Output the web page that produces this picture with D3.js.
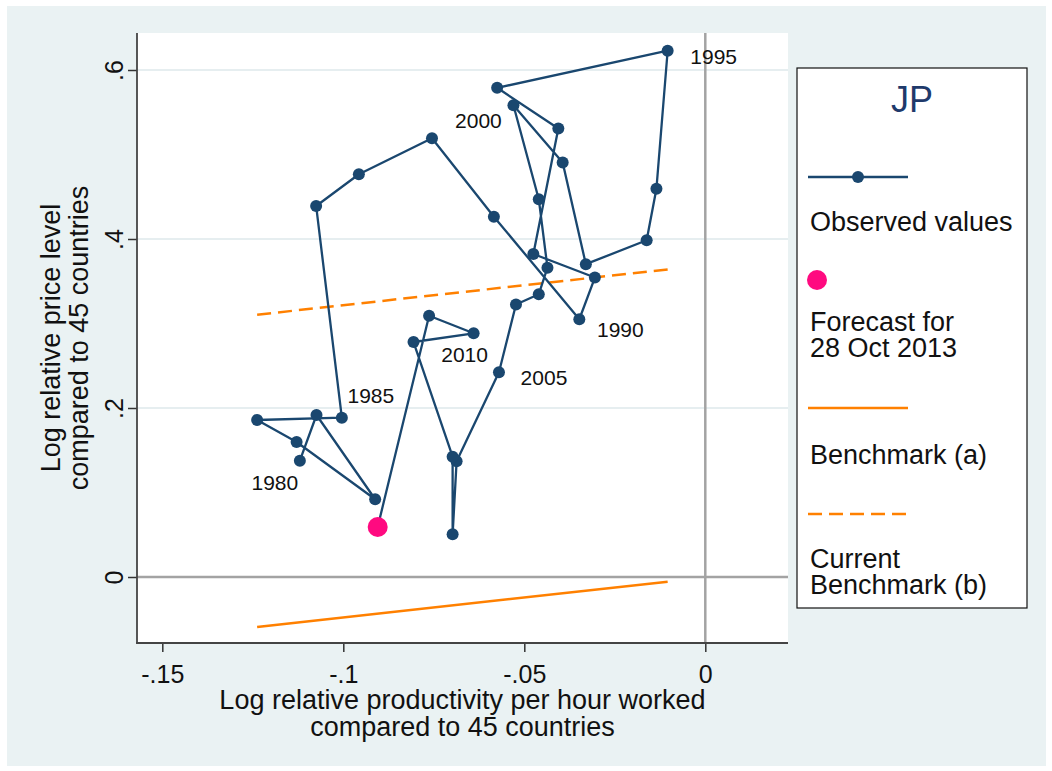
<!DOCTYPE html>
<html><head><meta charset="utf-8">
<script src="https://cdn.jsdelivr.net/npm/d3@7"></script>
<style>
body{margin:0;background:#fff;}
svg{display:block;font-family:"Liberation Sans",Arial,Helvetica,sans-serif;}
</style>
</head><body>
<svg id="chart" width="1052" height="771"></svg>
<script>
// ---- data ----
const years = [1980,1981,1982,1983,1984,1985,1986,1987,1988,1989,1990,1991,1992,1993,1994,1995,1996,1997,1998,1999,2000,2001,2002,2003,2004,2005,2006,2007,2008,2009,2010,2011];
const productivity = [-0.1120,-0.1074,-0.0912,-0.1129,-0.1238,-0.1004,-0.1075,-0.0957,-0.0755,-0.0584,-0.0348,-0.0305,-0.0475,-0.0406,-0.0575,-0.0104,-0.0135,-0.0162,-0.0330,-0.0394,-0.0530,-0.0460,-0.0436,-0.0460,-0.0523,-0.0570,-0.0687,-0.0698,-0.0698,-0.0806,-0.0640,-0.0763];
const priceLevel = [0.1376,0.1917,0.0920,0.1598,0.1858,0.1885,0.4391,0.4766,0.5192,0.4264,0.3050,0.3544,0.3822,0.5308,0.5789,0.6228,0.4595,0.3985,0.3702,0.4905,0.5583,0.4471,0.3660,0.3346,0.3225,0.2422,0.1369,0.0505,0.1424,0.2781,0.2884,0.3092];
const labelYears = [1980,1985,1990,1995,2000,2005,2010];
const forecastProductivity = [-0.0905];
const forecastPrice = [0.0592];
const benchmarkX = [-0.1238,-0.0104];
const benchmarkA = [-0.0592,-0.0055];
const benchmarkB = [0.3104,0.3640];
const xTickValues = [-0.15,-0.1,-0.05,0];
const xTickLabels = ["-.15","-.1","-.05","0"];
const yTickValues = [0,0.2,0.4,0.6];
const yTickLabels = ["0",".2",".4",".6"];
const xTitle = ["Log relative productivity per hour worked","compared to 45 countries"];
const yTitle = ["Log relative price level","compared to 45 countries"];
const legendTitle = "JP";
const legendLabels = [["Observed values"],["Forecast for","28 Oct 2013"],["Benchmark (a)"],["Current","Benchmark (b)"]];

// ---- styles ----
const NAVY="#1a476f", ORANGE="#ff8000", PINK="#ff0a80", BG="#eaf2f3";
const plot = {left:137, right:788, top:33, bottom:643};
// label offsets (label centre relative to marker), like Stata clock positions
const labelOffset = {1980:[-25,22],1985:[29,-22],1990:[41,10],1995:[46,6],2000:[-35,15],2005:[45,5],2010:[-9,21]};

const svg = d3.select("#chart");
svg.append("rect").attr("x",7).attr("y",6).attr("width",1039).attr("height",760).attr("fill",BG);
svg.append("rect").attr("x",plot.left).attr("y",plot.top).attr("width",plot.right-plot.left).attr("height",plot.bottom-plot.top).attr("fill","#fff");

const x = d3.scaleLinear().domain([-0.15,0]).range([162.3,705.3]);
const y = d3.scaleLinear().domain([0,0.6]).range([577,70]);

// gridlines
svg.append("g").selectAll("line").data(yTickValues.filter(v=>v!==0)).join("line")
  .attr("x1",plot.left).attr("x2",plot.right).attr("y1",d=>y(d)).attr("y2",d=>y(d))
  .attr("stroke","#e6eef0").attr("stroke-width",2);

// reference lines at zero
svg.append("line").attr("x1",plot.left).attr("x2",plot.right).attr("y1",y(0)).attr("y2",y(0))
  .attr("stroke","#a3a3a3").attr("stroke-width",2.5);
svg.append("line").attr("x1",x(0)).attr("x2",x(0)).attr("y1",plot.top).attr("y2",plot.bottom)
  .attr("stroke","#a3a3a3").attr("stroke-width",2.5);

// benchmarks
const bench = d3.line().x(d=>x(d[0])).y(d=>y(d[1]));
svg.append("path").attr("d",bench(benchmarkX.map((v,i)=>[v,benchmarkA[i]])))
  .attr("fill","none").attr("stroke",ORANGE).attr("stroke-width",2.5);
svg.append("path").attr("d",bench(benchmarkX.map((v,i)=>[v,benchmarkB[i]])))
  .attr("fill","none").attr("stroke",ORANGE).attr("stroke-width",2.5).attr("stroke-dasharray","14,7");

// observed path, ending at forecast
const obs = years.map((yr,i)=>({year:yr,x:productivity[i],y:priceLevel[i]}));
const pathPts = obs.map(d=>[d.x,d.y]).concat([[forecastProductivity[0],forecastPrice[0]]]);
svg.append("path").attr("d",d3.line().x(d=>x(d[0])).y(d=>y(d[1]))(pathPts))
  .attr("fill","none").attr("stroke",NAVY).attr("stroke-width",2.3).attr("stroke-linejoin","round");
svg.append("g").selectAll("circle").data(obs).join("circle")
  .attr("cx",d=>x(d.x)).attr("cy",d=>y(d.y)).attr("r",6).attr("fill",NAVY);
svg.append("circle").attr("cx",x(forecastProductivity[0])).attr("cy",y(forecastPrice[0])).attr("r",10).attr("fill",PINK);

// year labels
svg.append("g").selectAll("text").data(obs.filter(d=>labelYears.includes(d.year))).join("text")
  .attr("x",d=>x(d.x)+labelOffset[d.year][0]).attr("y",d=>y(d.y)+labelOffset[d.year][1])
  .attr("dy","0.358em").attr("text-anchor","middle").attr("font-size",21).attr("fill","#111")
  .text(d=>d.year);

// axes
const xAxis = svg.append("g").attr("transform",`translate(0,${plot.bottom})`)
  .call(d3.axisBottom(x).tickValues(xTickValues).tickFormat((d,i)=>xTickLabels[i]).tickSize(9).tickPadding(13));
xAxis.select(".domain").remove();
xAxis.selectAll("line").attr("stroke","#333").attr("stroke-width",1.5);
xAxis.selectAll("text").attr("font-size",25).attr("font-family",null).attr("fill","#111");

const yAxis = svg.append("g").attr("transform",`translate(${plot.left},0)`)
  .call(d3.axisLeft(y).tickValues(yTickValues).tickFormat((d,i)=>yTickLabels[i]).tickSize(9));
yAxis.select(".domain").remove();
yAxis.selectAll("line").attr("stroke","#333").attr("stroke-width",1.5);
yAxis.selectAll("text").attr("font-size",25).attr("font-family",null).attr("fill","#111")
  .attr("transform","rotate(-90)").attr("x",0).attr("y",-14).attr("dy",0).attr("text-anchor","middle");

svg.append("line").attr("x1",plot.left).attr("x2",plot.left).attr("y1",plot.top).attr("y2",plot.bottom+0.75)
  .attr("stroke","#444").attr("stroke-width",1.8);
svg.append("line").attr("x1",plot.left-0.9).attr("x2",plot.right).attr("y1",plot.bottom).attr("y2",plot.bottom)
  .attr("stroke","#444").attr("stroke-width",1.8);

// axis titles
const cx = (plot.left+plot.right)/2, cy = (plot.top+plot.bottom)/2;
svg.append("g").selectAll("text").data(xTitle).join("text")
  .attr("x",cx).attr("y",(d,i)=>709+i*27).attr("text-anchor","middle").attr("font-size",27).attr("fill","#111").text(d=>d);
svg.append("g").selectAll("text").data(yTitle).join("text")
  .attr("transform",(d,i)=>`translate(${60+i*28},${cy}) rotate(-90)`)
  .attr("text-anchor","middle").attr("font-size",27).attr("fill","#111").text(d=>d);

// legend
const lg = svg.append("g");
lg.append("rect").attr("x",797).attr("y",68).attr("width",230).attr("height",540).attr("fill","#fff").attr("stroke","#111").attr("stroke-width",1.2);
lg.append("text").attr("x",912).attr("y",112).attr("text-anchor","middle").attr("font-size",36).attr("fill","#1f3a6b").text(legendTitle);
lg.append("line").attr("x1",808).attr("x2",908).attr("y1",177).attr("y2",177).attr("stroke",NAVY).attr("stroke-width",2.3);
lg.append("circle").attr("cx",858).attr("cy",177).attr("r",6).attr("fill",NAVY);
lg.append("circle").attr("cx",817).attr("cy",280).attr("r",10).attr("fill",PINK);
lg.append("line").attr("x1",808).attr("x2",908).attr("y1",408).attr("y2",408).attr("stroke",ORANGE).attr("stroke-width",2.5);
lg.append("line").attr("x1",808).attr("x2",908).attr("y1",514).attr("y2",514).attr("stroke",ORANGE).attr("stroke-width",2.5).attr("stroke-dasharray","14,7");
const labelBase = [231,331,464,568];
legendLabels.forEach((lines,k)=>{
  lines.forEach((t,j)=>{
    lg.append("text").attr("x",810).attr("y",labelBase[k]+j*26).attr("font-size",27).attr("fill","#111").text(t);
  });
});
</script>
</body></html>
